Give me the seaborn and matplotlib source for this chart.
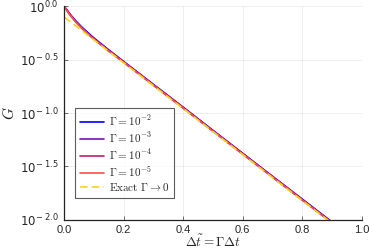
import numpy as np
import pandas as pd
import matplotlib
matplotlib.use("Agg")
import matplotlib.pyplot as plt
from matplotlib.ticker import NullLocator, FixedLocator, FixedFormatter
import seaborn as sns

# ---- data ----
x_vals = [0.0, 0.005, 0.01, 0.02, 0.04, 0.06, 0.08, 0.1, 0.15, 0.2, 0.3, 0.4, 0.5, 0.6, 0.7, 0.8, 0.9]
g_1e2 = [1.0, 0.958, 0.918, 0.842, 0.725, 0.636, 0.566, 0.505, 0.390, 0.304, 0.1854, 0.1133, 0.0688, 0.0419, 0.0255, 0.0156, 0.00951]
g_1e3 = [1.0, 0.953, 0.910, 0.833, 0.715, 0.626, 0.557, 0.498, 0.386, 0.301, 0.1836, 0.1122, 0.0681, 0.0415, 0.0253, 0.0154, 0.00941]
g_1e4 = [1.0, 0.951, 0.907, 0.829, 0.710, 0.622, 0.553, 0.494, 0.384, 0.300, 0.1827, 0.1117, 0.0678, 0.0413, 0.0252, 0.0153, 0.00937]
g_1e5 = [1.0, 0.949, 0.904, 0.825, 0.706, 0.618, 0.549, 0.491, 0.379, 0.298, 0.1818, 0.1111, 0.0675, 0.0411, 0.0250, 0.0153, 0.00932]
g_exact = [0.794, 0.775, 0.756, 0.719, 0.652, 0.590, 0.535, 0.484, 0.378, 0.295, 0.180, 0.110, 0.0668, 0.0407, 0.0248, 0.0151, 0.00923]

series_labels = [r"$\Gamma = 10^{-2}$", r"$\Gamma = 10^{-3}$", r"$\Gamma = 10^{-4}$",
                 r"$\Gamma = 10^{-5}$", r"$\mathrm{Exact}\ \Gamma \rightarrow 0$"]
series_values = [g_1e2, g_1e3, g_1e4, g_1e5, g_exact]
colors = ["#0000ff", "#7314b0", "#c41f6e", "#ff4b4b", "#ffd21f"]

x_ticks = [0.0, 0.2, 0.4, 0.6, 0.8, 1.0]
x_ticklabels = ["0.0", "0.2", "0.4", "0.6", "0.8", "1.0"]
y_tick_exps = [0.0, -0.5, -1.0, -1.5, -2.0]
y_ticklabels = [r"$10^{0.0}$", r"$10^{-\ 0.5}$", r"$10^{-\ 1.0}$", r"$10^{-\ 1.5}$", r"$10^{-\ 2.0}$"]

# ---- style ----
sns.set_style("white")
plt.rcParams["font.family"] = ["Liberation Sans", "DejaVu Sans"]
plt.rcParams["mathtext.fontset"] = "cm"

fig = plt.figure(figsize=(3.74, 2.49), dpi=100)
ax = fig.add_axes([0.172, 0.118, 0.795, 0.856])

frames = []
for lab, vals in zip(series_labels, series_values):
    frames.append(pd.DataFrame({"x": x_vals, "G": vals, "series": lab}))
df = pd.concat(frames, ignore_index=True)

for lab, col in zip(series_labels, colors):
    sub = df[df["series"] == lab]
    dashed = "Exact" in lab
    sns.lineplot(data=sub, x="x", y="G", ax=ax, color=col, lw=1.2,
                 label=lab, estimator=None, sort=False,
                 linestyle=(0, (4.5, 2.5)) if dashed else "-")

ax.set_yscale("log")
ax.set_xlim(0, 1.0)
ax.set_ylim(10 ** -2.0, 1.0)
ax.xaxis.set_major_locator(FixedLocator(x_ticks))
ax.xaxis.set_major_formatter(FixedFormatter(x_ticklabels))
ax.yaxis.set_major_locator(FixedLocator([10 ** e for e in y_tick_exps]))
ax.yaxis.set_major_formatter(FixedFormatter(y_ticklabels))
ax.yaxis.set_minor_locator(NullLocator())
ax.xaxis.set_minor_locator(NullLocator())

ax.grid(True, color="#000000", alpha=0.08, lw=0.6)
for s in ["top", "right"]:
    ax.spines[s].set_visible(False)
for s in ["left", "bottom"]:
    ax.spines[s].set_color("#222222")
    ax.spines[s].set_linewidth(0.9)
ax.tick_params(axis="both", direction="in", length=3, width=0.6, color="#555555",
               labelsize=8, left=True, bottom=True)
ax.tick_params(axis="x", pad=4)
ax.tick_params(axis="y", pad=4)
for lbl in ax.get_yticklabels():
    lbl.set_math_fontfamily("dejavusans")
    lbl.set_fontsize(8.5)
    lbl.set_verticalalignment("center_baseline")

ax.set_xlabel(r"$\Delta\tilde{t} = \Gamma\Delta t$", fontsize=9.5, labelpad=-1)
ax.set_ylabel(r"$G$", fontsize=11, labelpad=2)

leg = ax.legend(loc="lower left", bbox_to_anchor=(0.035, 0.10), fontsize=8,
                frameon=True, fancybox=False, edgecolor="#333333",
                handlelength=2.2, handletextpad=0.4, labelspacing=0.2,
                borderpad=0.45, borderaxespad=0.0)
leg.get_frame().set_linewidth(0.8)

fig.savefig("out.png", dpi=100)
